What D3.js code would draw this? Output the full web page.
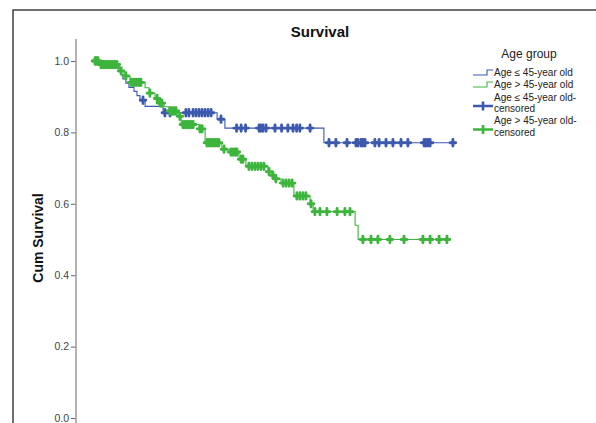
<!DOCTYPE html>
<html><head><meta charset="utf-8">
<script src="https://cdn.jsdelivr.net/npm/d3@7"></script>
<style>html,body{margin:0;padding:0;overflow:hidden;background:#fff}</style>
</head><body><svg id="c" width="596" height="423"></svg>
<script>
// ---- data ----
const title = "Survival";
const yLabel = "Cum Survival";
const legendTitle = "Age group";
const legendLabels = [["Age \u2264 45-year old"], ["Age > 45-year old"],
  ["Age \u2264 45-year old-", "censored"], ["Age > 45-year old-", "censored"]];
const yTicks = [0.0, 0.2, 0.4, 0.6, 0.8, 1.0];

// Age <= 45 (months)
const youngEventTimes = [3.3, 8.0, 8.7, 9.3, 10.3, 11.3, 13.0, 14.0, 15.0, 16.7, 22.7, 40.7, 43.3, 76.3];
const youngSurvival   = [0.99, 0.975, 0.962, 0.95, 0.938, 0.926, 0.915, 0.903, 0.89, 0.873, 0.855, 0.837, 0.812, 0.771];
const youngLastTime = 120;
const youngCensored = [16.0, 23.3, 25.0, 30.3, 31.3, 32.7, 33.7, 34.7, 35.7, 36.7, 37.7, 38.7, 42.0,
  47.2, 48.7, 50.2, 54.7, 55.3, 56.0, 57.0, 60.0, 62.2, 64.3, 66.0, 67.2, 68.3, 71.7,
  78.0, 80.3, 84.0, 87.0, 87.7, 88.7, 89.3, 90.0, 93.3, 94.7, 97.0, 99.3, 102.0, 104.3,
  109.7, 110.3, 111.0, 111.7, 119.3];

// Age > 45 (months)
const oldEventTimes = [1.7, 8.0, 9.7, 11.7, 16.7, 18.0, 20.0, 21.3, 23.0, 24.7, 27.7, 28.7, 34.7, 36.7,
  42.3, 44.7, 48.0, 50.3, 57.7, 59.0, 60.0, 62.0, 66.3, 71.7, 72.7, 86.7, 87.7];
const oldSurvival = [0.99, 0.972, 0.958, 0.94, 0.925, 0.91, 0.895, 0.882, 0.872, 0.86, 0.845, 0.822, 0.81, 0.771,
  0.753, 0.745, 0.725, 0.705, 0.69, 0.68, 0.67, 0.658, 0.622, 0.60, 0.578, 0.54, 0.50];
const oldLastTime = 117.3;
const oldCensored = [0, 0.3, 0.7, 1.0, 2.0, 2.7, 3.3, 4.0, 4.7, 5.3, 6.0, 6.7, 7.3, 8.7, 10.3,
  12.0, 12.7, 13.3, 14.0, 14.7, 15.3, 18.3, 20.7, 21.7, 22.3, 25.0, 25.7, 26.3, 27.0, 28.3,
  29.3, 30.0, 30.7, 31.3, 32.0, 32.7, 35.0, 35.7, 37.3, 38.0, 38.7, 39.3, 40.0, 40.7, 41.3,
  43.0, 45.3, 46.0, 46.7, 47.3, 48.7, 49.3, 51.3, 52.3, 53.3, 54.3, 55.3, 56.3, 58.0, 59.3, 60.3,
  62.7, 63.7, 64.7, 65.7, 67.3, 68.3, 69.3, 70.3, 72.0, 73.3, 75.0, 77.3, 80.7, 83.3, 85.0,
  89.3, 92.0, 94.3, 98.3, 103.0, 109.3, 111.7, 114.7, 117.3];

const colors = ["#3d59ad", "#3db53d"];
const FONT = "'Liberation Sans', Arial, sans-serif";

// ---- drawing ----
const svg = d3.select("#c");
const x = d3.scaleLinear().domain([0, 120]).range([95, 455]);
const y = d3.scaleLinear().domain([0, 1]).range([418, 61]);

// outer frame
svg.append("rect").attr("x", 13).attr("y", 10).attr("width", 700).attr("height", 500)
  .attr("fill", "none").attr("stroke", "#333").attr("stroke-width", 1.4);

// title
svg.append("text").attr("x", 320).attr("y", 37).attr("text-anchor", "middle")
  .style("font", "bold 15px " + FONT).attr("fill", "#111").text(title);

// y axis
const yAxis = d3.axisLeft(y).tickValues(yTicks).tickFormat(d3.format(".1f")).tickSize(5).tickPadding(2);
const gy = svg.append("g").attr("transform", "translate(76,0)").call(yAxis);
gy.select(".domain").remove();
gy.append("line").attr("x1", 0).attr("x2", 0).attr("y1", 39).attr("y2", 430)
  .attr("stroke", "#9a9a9a").attr("stroke-width", 1.5);
gy.selectAll(".tick line").attr("stroke", "#666");
gy.selectAll(".tick text").style("font", "10.5px " + FONT).attr("fill", "#444");

// y label
svg.append("text").attr("transform", "translate(43,238) rotate(-90)").attr("text-anchor", "middle")
  .style("font", "bold 14px " + FONT).attr("fill", "#111").text(yLabel);

function stepPoints(times, surv, last) {
  const pts = [[0, 1]];
  times.forEach((t, i) => pts.push([t, surv[i]]));
  pts.push([last, surv[surv.length - 1]]);
  return pts;
}
function survAt(times, surv, t) {
  let s = 1;
  for (let i = 0; i < times.length; i++) if (times[i] <= t) s = surv[i];
  return s;
}
const line = d3.line().x(d => x(d[0])).y(d => y(d[1])).curve(d3.curveStepAfter);

const series = [
  {times: youngEventTimes, surv: youngSurvival, last: youngLastTime, cens: youngCensored, color: colors[0]},
  {times: oldEventTimes, surv: oldSurvival, last: oldLastTime, cens: oldCensored, color: colors[1]}
];
series.forEach(s => {
  svg.append("path").attr("d", line(stepPoints(s.times, s.surv, s.last)))
    .attr("fill", "none").attr("stroke", s.color).attr("stroke-width", 1.1);
});
const cross = "M-2.8,0H2.8M0,-3.2V3.2";
series.forEach(s => {
  svg.append("g").selectAll("path").data(s.cens).join("path")
    .attr("transform", t => `translate(${x(t)},${y(survAt(s.times, s.surv, t))})`)
    .attr("d", cross).attr("fill", "none").attr("stroke", s.color)
    .attr("stroke-width", 2.9).attr("stroke-linecap", "round");
});

// legend
svg.append("text").attr("x", 529).attr("y", 58).attr("text-anchor", "middle")
  .style("font", "12px " + FONT).attr("fill", "#222").text(legendTitle);
const legTextY = [[76], [88], [100.5, 112], [124, 135.5]];
const legSymY = [72.5, 84.5, 106, 129.5];
legendLabels.forEach((lines, i) => {
  const c = colors[i % 2];
  const g = svg.append("g").attr("transform", `translate(0,${legSymY[i]})`);
  if (i < 2) {
    g.append("path").attr("d", "M473,2.5H487V-2.5H493").attr("fill", "none")
      .attr("stroke", c).attr("stroke-width", 1.1);
  } else {
    g.append("path").attr("d", "M473,0H493M483,-4.5V4.5").attr("fill", "none")
      .attr("stroke", c).attr("stroke-width", 2.6);
  }
  lines.forEach((ln, j) => {
    svg.append("text").attr("x", 494).attr("y", legTextY[i][j])
      .style("font", "10px " + FONT).attr("fill", "#222").text(ln);
  });
});
</script></body></html>
